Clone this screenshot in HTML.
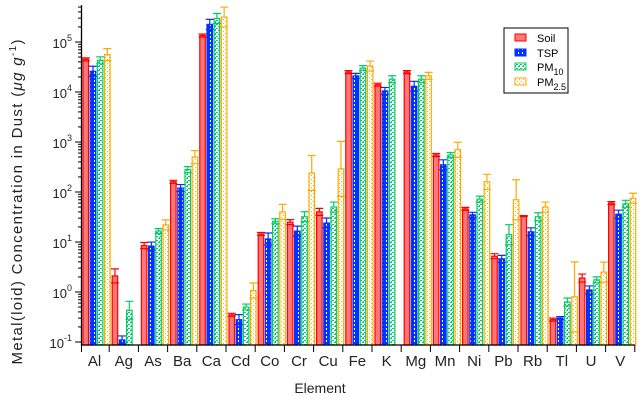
<!DOCTYPE html>
<html><head><meta charset="utf-8"><style>
body{margin:0;background:#fff;font-family:"Liberation Sans",sans-serif;}
svg text{font-family:"Liberation Sans",sans-serif;}
</style></head><body>
<svg id="c" width="642" height="401" xmlns="http://www.w3.org/2000/svg">
<defs>
<pattern id="pTSP" width="4" height="4" patternUnits="userSpaceOnUse"><rect width="4" height="4" fill="#0033ff"/><rect x="2" y="0" width="1" height="2" fill="#fff"/></pattern>
<pattern id="pPM10" width="4" height="4" patternUnits="userSpaceOnUse"><rect width="4" height="4" fill="#fff"/><rect x="0" y="0" width="2" height="1" fill="#00cc66"/><rect x="2" y="2" width="2" height="1" fill="#00cc66"/><rect x="3" y="1" width="1" height="1" fill="#00cc66"/></pattern>
<pattern id="pPM25" width="4" height="4" patternUnits="userSpaceOnUse"><rect width="4" height="4" fill="#fff"/><rect x="1" y="1" width="1" height="1" fill="#ffaa00"/><rect x="3" y="3" width="1" height="1" fill="#ffaa00"/></pattern>
</defs>
<g id="plot"></g>
<text x="22" y="202" transform="rotate(-90 22 202)" text-anchor="middle" font-size="15" fill="#222" textLength="325" lengthAdjust="spacing">Metal(loid) Concentration in Dust (<tspan font-style="italic">μg g</tspan><tspan font-size="10" dy="-6">-1</tspan><tspan dy="6">)</tspan></text>
<text x="320" y="393" text-anchor="middle" font-size="14" fill="#222">Element</text>
<g>
<rect x="504" y="28" width="64" height="65" fill="#fff" stroke="#000"/>
<g><rect x="515" y="34" width="11" height="7" fill="#ff7777" stroke="#ff0000"/><text x="537" y="42" font-size="11">Soil</text></g>
<g><rect x="515" y="49" width="11" height="7" fill="url(#pTSP)" stroke="#0033ff"/><text x="537" y="57" font-size="11">TSP</text></g>
<g><rect x="515" y="63" width="11" height="7" fill="url(#pPM10)" stroke="#00cc66"/><text x="537" y="71" font-size="11">PM<tspan font-size="9" dy="4">10</tspan></text></g>
<g><rect x="515" y="78" width="11" height="7" fill="url(#pPM25)" stroke="#ffaa00"/><text x="537" y="86" font-size="11">PM<tspan font-size="9" dy="4">2.5</tspan></text></g>
</g>
</svg>
<script>
const categories=["Al","Ag","As","Ba","Ca","Cd","Co","Cr","Cu","Fe","K","Mg","Mn","Ni","Pb","Rb","Tl","U","V"];
const soil=[45000,2.1,8.5,160,135000,0.35,14.5,25,40,25000,14000,25000,550,46,5.2,33,0.28,1.9,60];
const tsp=[26000,0.11,8.3,120,225000,0.28,11.5,16.5,24,21000,10500,13000,350,35,4.6,16,0.3,1.1,36];
const pm10=[43000,0.43,16.5,280,295000,0.5,26,32,50,30000,18000,18000,550,72,14,32,0.63,1.75,58];
const pm25=[56000,null,22,500,315000,1.07,40,240,290,33000,null,21000,700,160,70,50,0.8,2.5,75];
const errSoil=[0.03,0.14,0.06,0.03,0.03,0.03,0.03,0.05,0.07,0.03,0.03,0.03,0.03,0.03,0.05,0.01,0.03,0.08,0.03];
const errTsp=[0.1,0.08,0.08,0.07,0.1,0.1,0.12,0.1,0.1,0.05,0.07,0.1,0.1,0.05,0.07,0.08,0.03,0.08,0.08];
const errPm10=[0.07,0.18,0.05,0.06,0.1,0.06,0.05,0.1,0.1,0.05,0.07,0.07,0.05,0.06,0.2,0.08,0.08,0.06,0.07];
const errPm25=[0.12,0,0.1,0.13,0.2,0.15,0.15,0.35,0.55,0.1,0,0.07,0.15,0.15,0.4,0.1,0.7,0.2,0.1];
const yTicks=[-1,0,1,2,3,4,5];

const NS="http://www.w3.org/2000/svg";
const g=document.getElementById('plot');
const X0=80,CW=29.2,YB=345;
function y(v){return 342-50*(Math.log10(v)+1);}
function yl(l){return 342-50*(l+1);}
function mk(t,a,p){const e=document.createElementNS(NS,t);for(const k in a)e.setAttribute(k,a[k]);(p||g).appendChild(e);return e;}
const series=[{d:soil,e:errSoil,fill:"#ff7777",st:"#ff0000",n:"soil"},{d:tsp,e:errTsp,fill:"url(#pTSP)",st:"#0033ff",n:"tsp"},{d:pm10,e:errPm10,fill:"url(#pPM10)",st:"#00cc66",n:"pm10"},{d:pm25,e:errPm25,fill:"url(#pPM25)",st:"#ffaa00",n:"pm25"}];
series.forEach((s,si)=>{
 s.d.forEach((v,i)=>{
  if(v==null)return;
  const x=X0+i*CW+3+si*7.2, top=y(v);
  const r=mk('rect',{x:x,y:top,width:5.5,height:YB-top,fill:s.fill,stroke:s.st,'stroke-width':1.2});
  
  
  const l=Math.log10(v),et=yl(l+s.e[i]),eb=yl(l-s.e[i]),cx=x+2.75;
  const eg=mk('path',{d:`M${cx},${top}V${et}M${cx-4},${et}H${cx+4}M${cx-4},${eb}H${cx+4}`,stroke:s.st,'stroke-width':1.2,fill:'none'});
  
  
 });
});
const ax=mk('path',{d:`M81.5,5V${YB}H${X0+19*CW}`,stroke:'#000','stroke-width':1.3,fill:'none'});


yTicks.forEach(t=>{
 const yy=yl(t);
 mk('line',{x1:75,x2:81.5,y1:yy,y2:yy,stroke:'#000'});
 const tx=mk('text',{x:72,y:yy+6,'text-anchor':'end','font-size':13,fill:'#222'});
 
 
 tx.innerHTML='10<tspan font-size="9" dy="-7">'+t+'</tspan>';
 if(t<5)for(let m=2;m<10;m++){const my=yl(t+Math.log10(m));mk('line',{x1:78,x2:81.5,y1:my,y2:my,stroke:'#000'});}
});
for(let m=2;m<6;m++){const my=yl(5+Math.log10(m));if(my>5)mk('line',{x1:78,x2:81.5,y1:my,y2:my,stroke:'#000'});}
categories.forEach((c,i)=>{
 const xx=X0+(i+1)*CW;
 mk('line',{x1:xx,x2:xx,y1:YB,y2:352,stroke:'#000'});
 const t=mk('text',{x:X0+(i+0.5)*CW,y:366,'text-anchor':'middle','font-size':15,fill:'#222'});
 
 
 t.textContent=c;
});
mk('line',{x1:X0+1.5,x2:X0+1.5,y1:YB,y2:352,stroke:'#000'});
</script>
</body></html>
